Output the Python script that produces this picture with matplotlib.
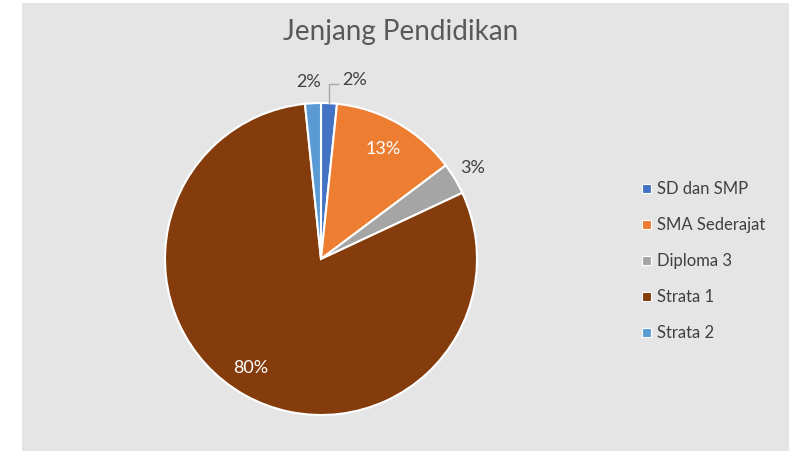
import numpy as np
import matplotlib.pyplot as plt
from matplotlib.patches import Rectangle, Patch

# data (counts -> percent labels 2/13/3/80/2)
categories = ["SD dan SMP", "SMA Sederajat", "Diploma 3", "Strata 1", "Strata 2"]
counts = [1, 8, 2, 49, 1]
colors = ["#4472C4", "#ED7D31", "#A5A5A5", "#843C0C", "#5B9BD5"]

plt.rcParams['font.family'] = ['Lato', 'DejaVu Sans']

W, H = 794, 451
fig = plt.figure(figsize=(W / 100, H / 100), dpi=100)
fig.patch.set_facecolor("white")
fig.patches.append(Rectangle((22 / W, 0), (789 - 22) / W, (448) / H,
                             transform=fig.transFigure, facecolor="#E6E5E5",
                             edgecolor="none", zorder=-5))

# pie centre at (321, 259) px, radius 156 px
cx, cy, r = 321, 259, 156
ax = fig.add_axes([(cx - r) / W, (H - cy - r) / H, 2 * r / W, 2 * r / H])

wedges, _ = ax.pie(counts, colors=colors, startangle=90, counterclock=False,
                   radius=1, wedgeprops=dict(edgecolor="white", linewidth=1.5))
ax.set_xlim(-1, 1)
ax.set_ylim(-1, 1)
ax.axis("off")

total = sum(counts)
pcts = [f"{round(c / total * 100):.0f}%" for c in counts]

# label placement: (radius, angle offset in degrees clockwise, colour)
label_pos = [(1.17, 7.5, "#404040"), (0.81, 0, "white"), (1.13, 0, "#404040"),
             (0.83, 3.5, "white"), (1.14, -1.0, "#404040")]

start = 0.0
for i, c in enumerate(counts):
    frac = c / total
    mid = (start + frac / 2) * 360
    start += frac
    rad, off, col = label_pos[i]
    a = np.deg2rad(mid + off)
    x, y = rad * np.sin(a), rad * np.cos(a)
    ax.text(x, y, pcts[i], color=col, fontsize=13, ha="center", va="center",
            clip_on=False)
    if i == 0:
        # leader line for the tiny first slice
        am = np.deg2rad(mid)
        ex, ey = np.sin(am), np.cos(am)
        ax.plot([ex, ex, 0.11], [ey, 1.12, 1.12], color="#A6A6A6", lw=1,
                clip_on=False)

fig.text(0.504, 1 - 32 / H, "Jenjang Pendidikan", ha="center", va="center",
         fontsize=20, color="#595959")

handles = [Patch(facecolor=col, edgecolor="white", linewidth=0.8) for col in colors]
fig.legend(handles, categories, loc="upper left", bbox_to_anchor=(634 / W, 1 - 173 / H),
           frameon=False, fontsize=12, labelcolor="#404040", handlelength=0.5,
           handleheight=0.5, handletextpad=0.4, labelspacing=1.2, borderpad=0)

fig.savefig("out.png", dpi=100)
